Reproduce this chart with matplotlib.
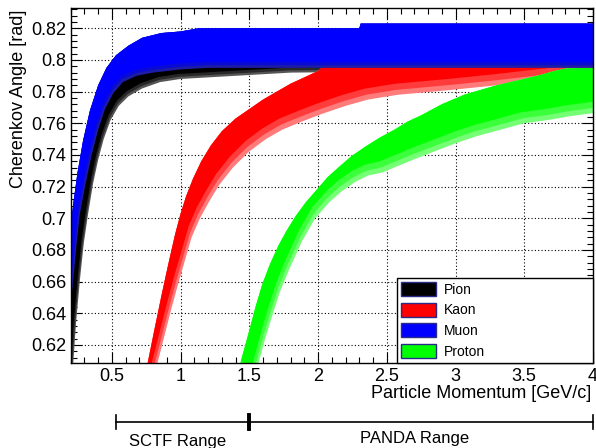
import numpy as np
import matplotlib
matplotlib.use('Agg')
import matplotlib.pyplot as plt
import matplotlib.transforms as mtransforms
from matplotlib.patches import Patch
from matplotlib.ticker import MultipleLocator, FuncFormatter

plt.rcParams['font.family'] = ['Liberation Sans', 'DejaVu Sans']

particles = ['Pion', 'Kaon', 'Muon', 'Proton']
colors = ['#000000', '#ff0000', '#0000ff', '#00ff00']
# sparse (speckled) lower side of each band: outermost and middle shades
fringe_light = ['#555555', '#ff7a7a', '#1c1ca6', '#74ff74']
fringe_mid = ['#282828', '#ff3c3c', '#0a0ad6', '#3cff3c']

# band edges: momentum [GeV/c] vs Cherenkov angle [rad]
# upper edges left -> right, lower edges left -> right
pion_upper_p = [0.19, 0.19, 0.23, 0.28, 0.33, 0.40, 0.50, 0.70, 1.20, 4.05]
pion_upper_a = [0.600, 0.660, 0.700, 0.735, 0.760, 0.780, 0.790, 0.797, 0.800, 0.800]
pion_lower_p = [0.21, 0.219, 0.24, 0.267, 0.295, 0.327, 0.363, 0.40, 0.44, 0.49, 0.55, 0.62,
                0.72, 0.85, 1.00, 1.20, 1.80, 4.05]
pion_lower_a = [0.600, 0.609, 0.635, 0.661, 0.684, 0.703, 0.722, 0.737, 0.750, 0.762, 0.771, 0.777,
                0.782, 0.786, 0.788, 0.789, 0.792, 0.794]

kaon_upper_p = [0.735, 0.761, 0.81, 0.86, 0.91, 0.96, 1.00, 1.04, 1.09, 1.15, 1.22, 1.30, 1.40,
                1.50, 1.60, 1.70, 1.80, 1.90, 2.00, 2.05, 4.05]
kaon_upper_a = [0.600, 0.609, 0.630, 0.651, 0.671, 0.690, 0.703, 0.714, 0.725, 0.736, 0.746, 0.755,
                0.763, 0.769, 0.775, 0.780, 0.785, 0.789, 0.793, 0.797, 0.797]
kaon_lower_p = [0.807, 0.833, 0.88, 0.93, 0.98, 1.03, 1.08, 1.14, 1.21, 1.28, 1.38, 1.496, 1.62,
                1.74, 1.88, 2.03, 2.20, 2.364, 2.58, 2.96, 3.30, 3.60, 3.81, 4.05]
kaon_lower_a = [0.600, 0.609, 0.625, 0.642, 0.658, 0.673, 0.688, 0.700, 0.711, 0.721, 0.732, 0.742,
                0.750, 0.756, 0.761, 0.766, 0.771, 0.775, 0.778, 0.781, 0.784, 0.787, 0.789, 0.790]

muon_upper_p = [0.19, 0.19, 0.20, 0.22, 0.25, 0.29, 0.34, 0.40, 0.46, 0.53, 0.62, 0.72, 0.86,
                1.00, 1.13, 2.30, 2.31, 4.05]
muon_upper_a = [0.620, 0.688, 0.695, 0.710, 0.729, 0.749, 0.768, 0.784, 0.795, 0.803, 0.809, 0.814,
                0.817, 0.818, 0.820, 0.820, 0.823, 0.823]
muon_lower_p = [0.19, 0.20, 0.212, 0.224, 0.243, 0.267, 0.304, 0.35, 0.40, 0.45, 0.51, 0.58, 0.68,
                0.80, 1.00, 1.20, 4.05]
muon_lower_a = [0.620, 0.645, 0.655, 0.666, 0.684, 0.703, 0.720, 0.739, 0.756, 0.769, 0.779, 0.786,
                0.790, 0.792, 0.794, 0.795, 0.795]

proton_upper_p = [1.42, 1.436, 1.496, 1.545, 1.593, 1.65, 1.713, 1.77, 1.834, 1.91, 1.99, 2.07,
                  2.147, 2.24, 2.34, 2.45, 2.557, 2.65, 2.75, 2.90, 3.063, 3.18, 3.30, 3.45, 3.617,
                  3.72, 3.81, 4.05]
proton_upper_a = [0.604, 0.609, 0.628, 0.644, 0.658, 0.671, 0.683, 0.692, 0.701, 0.710, 0.718, 0.726,
                  0.732, 0.739, 0.745, 0.751, 0.756, 0.761, 0.765, 0.772, 0.778, 0.781, 0.784, 0.787,
                  0.7905, 0.793, 0.7947, 0.795]
proton_lower_p = [1.54, 1.569, 1.615, 1.665, 1.72, 1.786, 1.88, 1.979, 2.08, 2.171, 2.27, 2.364,
                  2.47, 2.58, 2.72, 2.87, 3.02, 3.16, 3.33, 3.497, 3.67, 3.834, 4.05]
proton_lower_a = [0.600, 0.609, 0.624, 0.638, 0.653, 0.667, 0.685, 0.700, 0.710, 0.717, 0.723, 0.727,
                  0.729, 0.733, 0.738, 0.743, 0.748, 0.752, 0.756, 0.760, 0.762, 0.7645, 0.767]

bands = {
    'Pion': (pion_upper_p, pion_upper_a, pion_lower_p, pion_lower_a),
    'Kaon': (kaon_upper_p, kaon_upper_a, kaon_lower_p, kaon_lower_a),
    'Muon': (muon_upper_p, muon_upper_a, muon_lower_p, muon_lower_a),
    'Proton': (proton_upper_p, proton_upper_a, proton_lower_p, proton_lower_a),
}
draw_order = ['Pion', 'Kaon', 'Proton', 'Muon']
# how far (pixels) the dense part sits above/left of the sparse lower edge
fringe_shift = {'Pion': (-2, 5), 'Kaon': (-3, 11), 'Muon': (-2, 6), 'Proton': (-3, 11)}

range_labels = ['SCTF Range', 'PANDA Range']
range_start = [0.53, 1.5]
range_end = [1.5, 4.0]

fig = plt.figure(figsize=(5.96, 4.48), dpi=100)
ax = fig.add_axes([0.1186, 0.1904, 0.8763, 0.7917])

for k, name in enumerate(draw_order):
    i = particles.index(name)
    up_p, up_a, lo_p, lo_a = bands[name]
    poly_p = np.concatenate([up_p, lo_p[::-1]])
    poly_a = np.concatenate([up_a, lo_a[::-1]])
    outer = ax.fill(poly_p, poly_a, color=fringe_light[i], lw=0, zorder=2 + k)[0]
    dx, dy = fringe_shift[name]
    layers = [(0.45, fringe_mid[i]), (1.0, colors[i])]
    for j, (f, c) in enumerate(layers):
        shifted = mtransforms.offset_copy(ax.transData, fig=fig, x=dx * f, y=dy * f, units='dots')
        inner = ax.fill(poly_p, poly_a, color=c, lw=0, zorder=2 + k + 0.3 * (j + 1),
                        transform=shifted)[0]
        inner.set_clip_path(outer)

ax.set_xlim(0.2, 4.0)
ax.set_ylim(0.6088, 0.8328)

fmt = FuncFormatter(lambda v, pos: f'{v:.2f}'.rstrip('0').rstrip('.'))
ax.xaxis.set_major_locator(MultipleLocator(0.5))
ax.xaxis.set_minor_locator(MultipleLocator(0.1))
ax.yaxis.set_major_locator(MultipleLocator(0.02))
ax.yaxis.set_minor_locator(MultipleLocator(0.004))
ax.xaxis.set_major_formatter(fmt)
ax.yaxis.set_major_formatter(fmt)
ax.tick_params(which='both', direction='in', top=True, right=True, width=0.8, labelsize=13)
ax.tick_params(which='major', length=8)
ax.tick_params(which='minor', length=4.5)
ax.tick_params(axis='x', pad=4)
ax.tick_params(axis='y', pad=3)
for s in ax.spines.values():
    s.set_linewidth(1.0)
    s.set_zorder(10)

ax.set_axisbelow(True)
ax.grid(True, which='major', color='black', linestyle=(0, (1, 2)), linewidth=0.8)

ax.set_xlabel('Particle Momentum [GeV/c]', fontsize=13, ha='right', va='top')
ax.xaxis.set_label_coords(0.996, -0.062)
ax.set_ylabel('Cherenkov Angle [rad]', fontsize=13, ha='right', va='bottom')
ax.yaxis.set_label_coords(-0.084, 0.995)

handles = [Patch(facecolor=c, edgecolor='#2a2a8a', lw=1) for c in colors]
leg = ax.legend(handles, particles, loc='lower left', bbox_to_anchor=(0.6247, 0.0, 0.3753, 0.25),
                mode='expand', borderaxespad=0, fancybox=False, edgecolor='black', framealpha=1,
                fontsize=10, handlelength=2.5, handleheight=1.15, labelspacing=0.43,
                handletextpad=0.55, borderpad=0.3)
leg.get_frame().set_linewidth(1.0)
leg.set_zorder(20)

# momentum range brackets below the axis
trans = mtransforms.blended_transform_factory(ax.transData, ax.transAxes)
line_y = -0.1663
cap = 0.0197
ends = range_start + range_end
label_x = [0.98, 2.70]
label_y = [-0.2349, -0.2255]
for i, lab in enumerate(range_labels):
    ax.plot([range_start[i], range_end[i]], [line_y, line_y], color='black', lw=1.2,
            transform=trans, clip_on=False)
    for e in (range_start[i], range_end[i]):
        lw = 2.6 if ends.count(e) > 1 else 1.2
        ax.plot([e, e], [line_y - cap, line_y + cap], color='black', lw=lw,
                transform=trans, clip_on=False)
    ax.text(label_x[i], label_y[i], lab, fontsize=12, ha='center', va='baseline',
            transform=trans, clip_on=False)

fig.savefig('out.png', dpi=100)
